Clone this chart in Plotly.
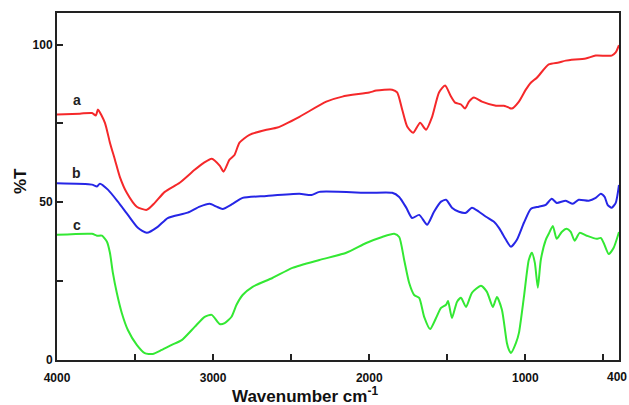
import plotly.graph_objects as go

# Spectrum a (red)
wn_a = [4000, 3853, 3776, 3751, 3738, 3693, 3661, 3629, 3597, 3553, 3489, 3425, 3374, 3310, 3214, 3118,
        3060, 3009, 2958, 2933, 2895, 2863, 2831, 2767, 2658, 2588, 2447, 2275, 2172, 2000, 1955, 1853,
        1821, 1789, 1757, 1719, 1674, 1636, 1597, 1553, 1514, 1476, 1450, 1412, 1386, 1361, 1329, 1278,
        1188, 1137, 1124, 1086, 1041, 997, 965, 926, 850, 786, 741, 613, 549, 447, 421, 400]
t_a = [77.8, 78.1, 78.3, 77.5, 79.4, 75.2, 68.9, 63.5, 58.0, 53.0, 48.6, 47.6, 49.8, 53.3, 56.2, 60.3,
       62.5, 63.8, 61.6, 59.7, 63.5, 65.0, 68.9, 71.4, 73.0, 73.7, 77.1, 81.9, 83.5, 84.8, 85.4, 85.7,
       84.8, 79.4, 74.0, 72.0, 75.2, 73.0, 77.1, 84.8, 87.0, 83.5, 81.6, 81.0, 79.7, 81.9, 83.2, 81.9,
       80.6, 80.6, 80.4, 79.7, 81.9, 85.7, 87.9, 89.5, 93.7, 94.3, 94.9, 95.6, 96.5, 96.5, 97.5, 99.8]

# Spectrum b (blue)
wn_b = [4000, 3776, 3744, 3725, 3674, 3610, 3546, 3482, 3425, 3355, 3291, 3163, 3086, 3022, 2978, 2939,
        2875, 2811, 2658, 2447, 2370, 2319, 2000, 1853, 1808, 1763, 1725, 1680, 1629, 1585, 1540, 1508,
        1470, 1425, 1380, 1342, 1297, 1252, 1201, 1169, 1150, 1124, 1092, 1054, 1009, 965, 914, 869,
        831, 799, 741, 696, 658, 594, 549, 517, 492, 473, 447, 421, 400]
t_b = [56.0, 55.6, 55.0, 55.9, 54.0, 50.2, 46.0, 41.9, 40.3, 42.2, 45.0, 46.7, 48.6, 49.5, 48.6, 47.9,
       49.5, 51.4, 52.0, 52.7, 52.3, 53.3, 53.0, 53.0, 51.7, 48.3, 45.0, 46.0, 42.9, 47.0, 50.2, 50.8,
       48.3, 47.0, 46.7, 48.3, 47.0, 45.4, 43.8, 41.9, 40.3, 38.1, 35.9, 38.1, 43.5, 47.9, 48.6, 49.2,
       51.1, 49.8, 50.5, 49.5, 50.8, 50.5, 51.4, 52.7, 51.7, 49.2, 48.3, 49.8, 55.5]

# Spectrum c (green)
wn_c = [4000, 3776, 3744, 3712, 3680, 3661, 3642, 3617, 3585, 3546, 3489, 3438, 3387, 3329, 3265, 3201,
        3118, 3054, 3009, 2958, 2926, 2882, 2850, 2811, 2747, 2620, 2492, 2319, 2147, 2019, 1917, 1840,
        1808, 1776, 1744, 1712, 1680, 1648, 1610, 1572, 1540, 1508, 1495, 1470, 1438, 1412, 1380, 1342,
        1284, 1246, 1208, 1182, 1150, 1118, 1105, 1092, 1060, 1041, 1009, 978, 958, 939, 920, 901,
        869, 850, 824, 799, 767, 735, 709, 684, 652, 607, 543, 517, 498, 466, 434, 400]
t_c = [39.7, 40.0, 39.4, 39.4, 37.5, 34.0, 27.6, 21.3, 14.9, 9.5, 4.8, 2.2, 1.9, 3.2, 4.8, 6.3,
       10.5, 13.7, 14.3, 11.4, 11.7, 13.7, 17.5, 20.6, 23.2, 26.0, 29.2, 31.7, 34.0, 37.1, 39.0, 40.0,
       39.0, 31.7, 24.4, 20.6, 19.7, 13.7, 9.8, 13.3, 16.5, 17.5, 18.7, 13.3, 18.4, 19.7, 16.8, 21.3,
       23.5, 21.6, 16.8, 20.0, 15.9, 5.4, 3.2, 2.2, 5.4, 8.6, 20.0, 31.7, 34.0, 30.8, 22.9, 31.7,
       38.1, 40.0, 42.5, 38.4, 40.6, 41.6, 40.6, 37.8, 40.3, 39.4, 38.4, 38.7, 37.1, 33.6, 35.6, 40.6]

series = [("a", wn_a, t_a, "#f5282a", 82.5), ("b", wn_b, t_b, "#2626e6", 59.4), ("c", wn_c, t_c, "#33e833", 42.9)]

x_tickvals = [4000, 3500, 3000, 2500, 2000, 1500, 1000, 500]
x_ticktext = ["<b>4000</b>", "", "<b>3000</b>", "", "<b>2000</b>", "", "<b>1000</b>", ""]
x_end_label = "400"
y_tickvals = [0, 25, 50, 75, 100]
y_ticktext = ["<b>0</b>", "", "<b>50</b>", "", "<b>100</b>"]

FONT = "Arial, Liberation Sans"

fig = go.Figure()
for name, x, y, color, ly in series:
    fig.add_trace(go.Scatter(x=x, y=y, mode="lines", name=name,
                             line=dict(color=color, width=2, shape="spline", smoothing=0.6)))
    fig.add_annotation(x=3872, y=ly, text="<b>%s</b>" % name, showarrow=False,
                       font=dict(family=FONT, size=14, color="#222"))

# end label of the x axis (at the right frame edge)
fig.add_annotation(xref="x", yref="paper", x=400, y=0, yanchor="top", xanchor="right", xshift=10, yshift=-8,
                   text="<b>%s</b>" % x_end_label, showarrow=False,
                   font=dict(family=FONT, size=12, color="#111"))

fig.add_annotation(xref="paper", yref="paper", x=-0.085, y=0.515, text="<b>%T</b>", textangle=-90,
                   showarrow=False, font=dict(family=FONT, size=17, color="#111"))
fig.add_annotation(xref="paper", yref="paper", x=0.442, y=-0.064, yanchor="top",
                   text="<b>Wavenumber cm<sup>-1</sup></b>",
                   showarrow=False, font=dict(family=FONT, size=17, color="#111"))

axis_common = dict(showgrid=False, zeroline=False, showline=True, linecolor="#222", linewidth=2,
                   mirror=True, ticks="inside", tickcolor="#222", tickwidth=1.5, ticklen=6,
                   tickfont=dict(family=FONT, size=12, color="#111"))
fig.update_xaxes(range=[4000, 400], tickvals=x_tickvals, ticktext=x_ticktext,
                 ticklabelstandoff=6, **axis_common)
fig.update_yaxes(range=[0, 110], tickvals=y_tickvals, ticktext=y_ticktext, **axis_common)
fig.update_layout(width=629, height=405, margin=dict(l=57, r=8, t=13, b=45),
                  paper_bgcolor="white", plot_bgcolor="white", showlegend=False)
fig.write_html("out.html")
